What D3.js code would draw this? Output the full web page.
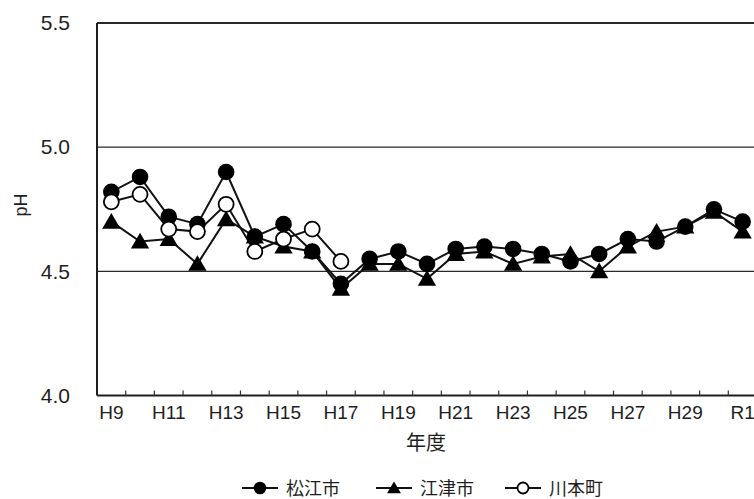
<!DOCTYPE html>
<html>
<head>
<meta charset="utf-8">
<script src="https://cdn.jsdelivr.net/npm/d3@7"></script>
<style>
  html, body { margin: 0; padding: 0; background: #fff; }
  svg { display: block; }
</style>
</head>
<body>
<svg id="chart" width="754" height="499"></svg>
<script>
// ---- data ----
const years = ["H9","H10","H11","H12","H13","H14","H15","H16","H17","H18","H19","H20",
               "H21","H22","H23","H24","H25","H26","H27","H28","H29","H30","R1"];
const matsue   = [4.82,4.88,4.72,4.69,4.90,4.64,4.69,4.58,4.45,4.55,4.58,4.53,
                  4.59,4.60,4.59,4.57,4.54,4.57,4.63,4.62,4.68,4.75,4.70];
const gotsu    = [4.70,4.62,4.63,4.53,4.71,4.64,4.60,4.58,4.43,4.53,4.53,4.47,
                  4.57,4.58,4.53,4.56,4.57,4.50,4.60,4.66,4.68,4.74,4.66];
const kawamoto = [4.78,4.81,4.67,4.66,4.77,4.58,4.63,4.67,4.54,null,null,null,
                  null,null,null,null,null,null,null,null,null,null,null];
const yTicks = [4.0, 4.5, 5.0, 5.5];
const xTickLabels = ["H9","H11","H13","H15","H17","H19","H21","H23","H25","H27","H29","R1"];
const seriesNames = ["松江市","江津市","川本町"];
const yTitle = "pH";
const xTitle = "年度";

// ---- drawing ----
const svg = d3.select("#chart");
const latin = "'Liberation Sans', Arial, sans-serif";
const cjk = "'Noto Sans CJK JP', 'Noto Sans CJK SC', sans-serif";
const ink = "#1e1e1e";

const x = d3.scaleBand().domain(years).range([97, 757]).padding(0);
const y = d3.scaleLinear().domain([4.0, 5.5]).range([395.5, 23]);
const cx = d => x(d) + x.bandwidth() / 2;

// gridlines
svg.append("g").selectAll("line").data(yTicks.filter(v => v > 4.0)).join("line")
  .attr("x1", 97).attr("x2", 757)
  .attr("y1", d => y(d)).attr("y2", d => y(d))
  .attr("stroke", "#2a2a2a")
  .attr("stroke-width", d => d === 5.5 ? 2 : 1.3);

// y axis
const yAxis = svg.append("g").attr("transform", "translate(97,0)")
  .call(d3.axisLeft(y).tickValues(yTicks).tickSize(0).tickPadding(27).tickFormat(d3.format(".1f")));
yAxis.select(".domain").remove();
yAxis.selectAll("text").attr("font-family", latin).attr("font-size", 21).attr("fill", ink);
svg.append("line").attr("x1", 97).attr("x2", 97).attr("y1", y(5.5)).attr("y2", y(4.0))
  .attr("stroke", ink).attr("stroke-width", 2);

// x axis
const xAxis = svg.append("g").attr("transform", `translate(0,${y(4.0)})`)
  .call(d3.axisBottom(x).tickValues(xTickLabels).tickSize(0).tickPadding(10));
xAxis.select(".domain").remove();
xAxis.selectAll("text").attr("font-family", latin).attr("font-size", 19).attr("fill", ink);
svg.append("line").attr("x1", 97).attr("x2", 757).attr("y1", y(4.0)).attr("y2", y(4.0))
  .attr("stroke", ink).attr("stroke-width", 2);
// inward tick marks at category boundaries
svg.append("g").selectAll("line").data(years.slice(1)).join("line")
  .attr("x1", d => x(d)).attr("x2", d => x(d))
  .attr("y1", y(4.0)).attr("y2", y(4.0) - 5)
  .attr("stroke", "#333").attr("stroke-width", 1.2);

// titles
svg.append("text").attr("transform", `translate(27,205) rotate(-90)`)
  .attr("text-anchor", "middle").attr("font-family", latin).attr("font-size", 18)
  .attr("fill", ink).text(yTitle);
svg.append("text").attr("x", 426).attr("y", 450).attr("text-anchor", "middle")
  .attr("font-family", cjk).attr("font-size", 20).attr("fill", ink).text(xTitle);

// lines
const series = [matsue, gotsu, kawamoto];
const line = d3.line().defined(d => d.v != null).x(d => cx(d.k)).y(d => y(d.v));
series.forEach(s => {
  svg.append("path")
    .datum(years.map((k, i) => ({k, v: s[i]})))
    .attr("fill", "none").attr("stroke", "#111").attr("stroke-width", 2)
    .attr("d", line);
});

// markers
const triPath = (r) => `M0,${-r} L${r*1.05},${r*0.8} L${-r*1.05},${r*0.8} Z`;
function drawMarker(g, type, size) {
  if (type === 0) {
    g.append("circle").attr("r", size).attr("fill", "#000");
  } else if (type === 1) {
    g.append("path").attr("d", triPath(size * 1.05)).attr("fill", "#000");
  } else {
    g.append("circle").attr("r", size - 0.8).attr("fill", "#fff")
      .attr("stroke", "#000").attr("stroke-width", 1.8);
  }
}
series.forEach((s, si) => {
  years.forEach((k, i) => {
    if (s[i] == null) return;
    const g = svg.append("g").attr("transform", `translate(${cx(k)},${y(s[i])})`);
    drawMarker(g, si, 8.3);
  });
});

// legend
const legendX = [242, 376, 505];
const legendY = 488;
seriesNames.forEach((name, i) => {
  const lx = legendX[i];
  svg.append("line").attr("x1", lx).attr("x2", lx + 36)
    .attr("y1", legendY).attr("y2", legendY)
    .attr("stroke", "#111").attr("stroke-width", 2);
  const g = svg.append("g").attr("transform", `translate(${lx + 18},${legendY})`);
  drawMarker(g, i, 6.3);
  svg.append("text").attr("x", lx + 44).attr("y", legendY + 7)
    .attr("font-family", cjk).attr("font-size", 18).attr("fill", ink).text(name);
});
</script>
</body>
</html>
